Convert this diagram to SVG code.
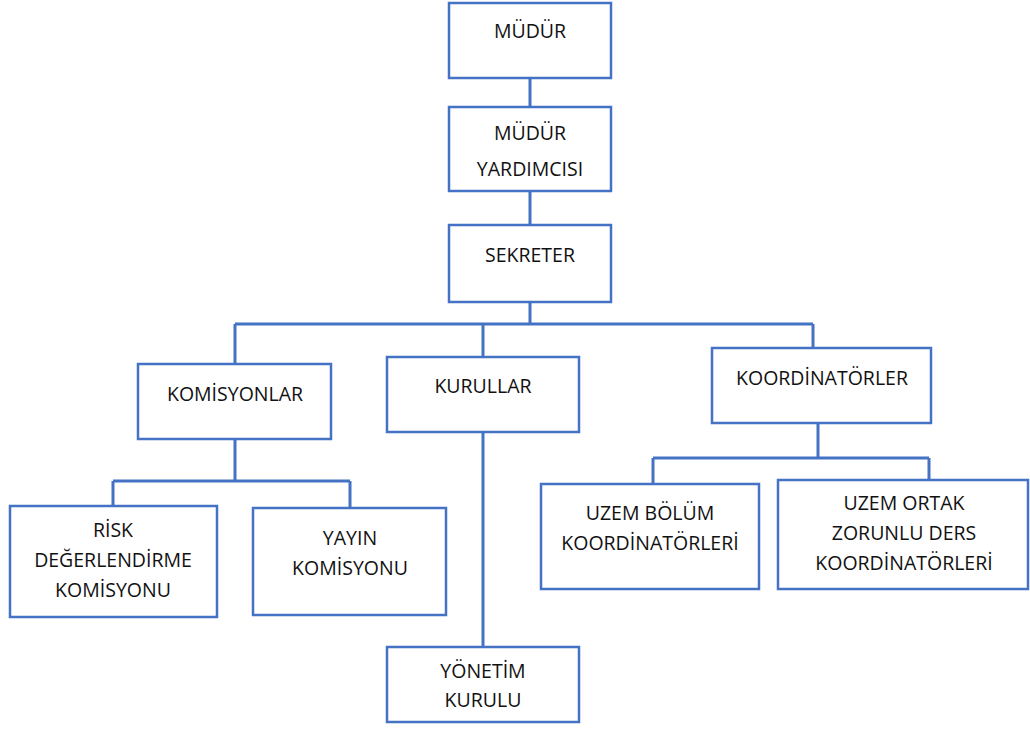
<svg xmlns="http://www.w3.org/2000/svg" width="1030" height="729" viewBox="0 0 1030 729">
<style>
.box{fill:#fff;stroke:#4472C4;stroke-width:2.5}
.conn{fill:none;stroke:#4472C4;stroke-width:3}
text{font-family:"Open Sans","Noto Sans",sans-serif;font-size:19.5px;fill:#111;text-anchor:middle}
</style>
<rect width="1030" height="729" fill="#fff"/>
<g id="connectors">
<path class="conn" d="M530 78V107M530 191V225M530 302V324M235 324H813M235 324V364M483 324V357M813 324V348"/>
<path class="conn" d="M235 439V481M113 481H350M113 481V506M350 481V508"/>
<path class="conn" d="M483 432V647"/>
<path class="conn" d="M818 423V458M653 458H929M653 458V484M929 458V480"/>
</g>
<g id="mudur"><rect class="box" x="449" y="3" width="162" height="75"/><text x="530" y="38">MÜDÜR</text></g>
<g id="mudur-yardimcisi"><rect class="box" x="449" y="107" width="162" height="84"/><text x="530" y="140">MÜDÜR</text><text x="530" y="176">YARDIMCISI</text></g>
<g id="sekreter"><rect class="box" x="449" y="225" width="162" height="77"/><text x="530" y="262">SEKRETER</text></g>
<g id="komisyonlar"><rect class="box" x="138" y="364" width="193" height="75"/><text x="235" y="401">KOMİSYONLAR</text></g>
<g id="kurullar"><rect class="box" x="387" y="357" width="192" height="75"/><text x="483" y="393">KURULLAR</text></g>
<g id="koordinatorler"><rect class="box" x="712" y="348" width="219" height="75"/><text x="822" y="385">KOORDİNATÖRLER</text></g>
<g id="risk"><rect class="box" x="10" y="506" width="207" height="111"/><text x="113" y="537">RİSK</text><text x="113" y="567">DEĞERLENDİRME</text><text x="113" y="597">KOMİSYONU</text></g>
<g id="yayin"><rect class="box" x="253" y="508" width="193" height="107"/><text x="350" y="545">YAYIN</text><text x="350" y="575">KOMİSYONU</text></g>
<g id="yonetim"><rect class="box" x="387" y="647" width="192" height="75"/><text x="483" y="678">YÖNETİM</text><text x="483" y="707">KURULU</text></g>
<g id="uzem-bolum"><rect class="box" x="541" y="484" width="218" height="105"/><text x="650" y="520">UZEM BÖLÜM</text><text x="650" y="550">KOORDİNATÖRLERİ</text></g>
<g id="uzem-ortak"><rect class="box" x="778" y="480" width="250" height="109"/><text x="904" y="510">UZEM ORTAK</text><text x="904" y="540">ZORUNLU DERS</text><text x="904" y="570">KOORDİNATÖRLERİ</text></g>
</svg>
